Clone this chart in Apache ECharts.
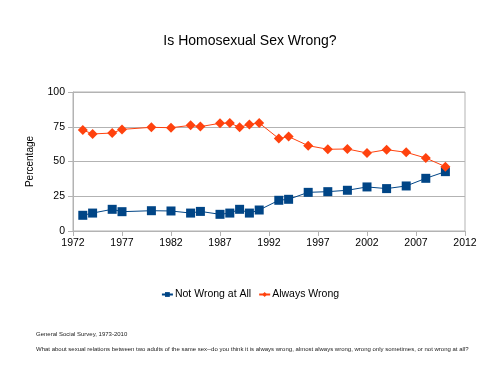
<!DOCTYPE html>
<html><head><meta charset="utf-8">
<script src="https://cdn.jsdelivr.net/npm/echarts@6/dist/echarts.min.js"></script>
<style>html,body{margin:0;padding:0;background:#fff}#c{width:500px;height:382px}</style>
</head><body><div id="c"></div>
<script>
const years = [1973,1974,1976,1977,1980,1982,1984,1985,1987,1988,1989,1990,1991,1993,1994,1996,1998,2000,2002,2004,2006,2008,2010];
const notWrong = [11.3,12.9,15.6,13.9,14.6,14.4,12.9,14.1,12.0,12.9,15.6,12.9,15.1,22.1,22.8,27.8,28.3,29.3,31.7,30.5,32.4,37.9,42.7];
const alwaysWrong = [72.7,69.8,70.5,73.1,74.6,74.3,76.0,75.1,77.5,77.7,74.6,76.7,77.7,66.5,67.9,61.4,58.8,59.0,56.1,58.5,56.6,52.5,46.3];
const xTicks = [1972,1977,1982,1987,1992,1997,2002,2007,2012];
const yTicks = [0,25,50,75,100];

const font = 'Liberation Sans';
const chart = echarts.init(document.getElementById('c'));
const axisGray = '#b3b3b3';
chart.setOption({
  animation:false,
  textStyle:{fontFamily:font},
  title:[
    {text:'Is Homosexual Sex Wrong?',left:'center',top:29,textStyle:{fontFamily:font,fontSize:14,fontWeight:'normal',color:'#000'}},
    {text:'General Social Survey, 1973-2010',left:31,top:326,textStyle:{fontFamily:font,fontSize:6,fontWeight:'normal',color:'#222'}},
    {text:'What about sexual relations between two adults of the same sex--do you think it is always wrong, almost always wrong, wrong only sometimes, or not wrong at all?',left:31,top:341,textStyle:{fontFamily:font,fontSize:6,fontWeight:'normal',color:'#222'}}
  ],
  legend:{
    top:284,left:'center',itemGap:7,itemWidth:11,itemHeight:6,
    textStyle:{fontFamily:font,fontSize:10.5,color:'#000',padding:[0,0,0,-3]},
    data:[{name:'Not Wrong at All'},{name:'Always Wrong'}]
  },
  grid:{left:73,right:35,top:92,bottom:151,show:true,borderColor:axisGray,borderWidth:1},
  xAxis:{
    type:'value',min:1972,max:2012,interval:5,
    axisLine:{show:true,lineStyle:{color:axisGray}},
    axisTick:{show:true,length:5,lineStyle:{color:axisGray},customValues:xTicks},
    axisLabel:{color:'#000',fontSize:10.5,margin:7,customValues:xTicks,formatter:v=>String(v)},
    splitLine:{show:false}
  },
  yAxis:{
    type:'value',min:0,max:100,interval:25,
    name:'Percentage',nameLocation:'middle',nameGap:38,nameRotate:90,
    nameTextStyle:{color:'#000',fontSize:10,fontFamily:font},
    axisLine:{show:true,lineStyle:{color:axisGray}},
    axisTick:{show:true,length:5,lineStyle:{color:axisGray},customValues:yTicks},
    axisLabel:{color:'#000',fontSize:10.5,margin:8,customValues:yTicks},
    splitLine:{show:true,lineStyle:{color:axisGray,width:1}}
  },
  series:[
    {name:'Not Wrong at All',type:'line',data:years.map((y,i)=>[y,notWrong[i]]),
     symbol:'rect',symbolSize:9,lineStyle:{color:'#004586',width:1},itemStyle:{color:'#004586'}},
    {name:'Always Wrong',type:'line',data:years.map((y,i)=>[y,alwaysWrong[i]]),
     symbol:'diamond',symbolSize:10,lineStyle:{color:'#ff420e',width:1},itemStyle:{color:'#ff420e'}}
  ]
});
</script></body></html>
